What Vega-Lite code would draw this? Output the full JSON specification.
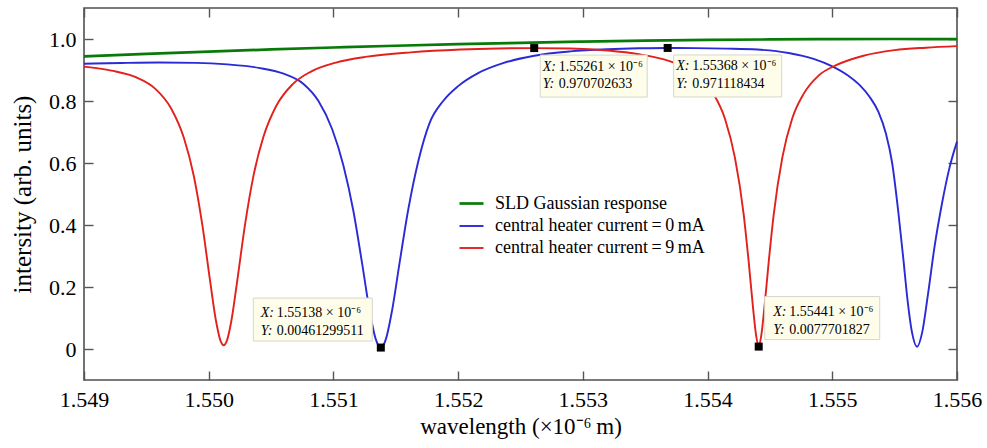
{
"$schema":"https://vega.github.io/schema/vega-lite/v6.json",
"width":873,"height":372,
"autosize":{"type":"none"},
"padding":{"left":84,"top":8,"right":30,"bottom":68},
"background":"white",
"config":{"font":"Liberation Serif","view":{"stroke":"#505050","strokeWidth":1.6}},
"datasets":{
"curves":[
{"s":"SLD Gaussian response","x":1.549,"y":0.9437},{"s":"SLD Gaussian response","x":1.5495,"y":0.9518},{"s":"SLD Gaussian response","x":1.55,"y":0.9594},{"s":"SLD Gaussian response","x":1.5505,"y":0.9663},{"s":"SLD Gaussian response","x":1.551,"y":0.9726},{"s":"SLD Gaussian response","x":1.5515,"y":0.9783},{"s":"SLD Gaussian response","x":1.552,"y":0.9833},{"s":"SLD Gaussian response","x":1.5525,"y":0.9877},{"s":"SLD Gaussian response","x":1.553,"y":0.9915},{"s":"SLD Gaussian response","x":1.5535,"y":0.9945},{"s":"SLD Gaussian response","x":1.554,"y":0.9969},{"s":"SLD Gaussian response","x":1.5545,"y":0.9986},{"s":"SLD Gaussian response","x":1.555,"y":0.9997},{"s":"SLD Gaussian response","x":1.5555,"y":1.0},{"s":"SLD Gaussian response","x":1.556,"y":0.9997},
{"s":"central heater current\u2009=\u20090\u2009mA","x":1.549,"y":0.920},{"s":"central heater current\u2009=\u20090\u2009mA","x":1.5493,"y":0.9225},{"s":"central heater current\u2009=\u20090\u2009mA","x":1.5496,"y":0.924},{"s":"central heater current\u2009=\u20090\u2009mA","x":1.5499,"y":0.923},{"s":"central heater current\u2009=\u20090\u2009mA","x":1.55015,"y":0.918},{"s":"central heater current\u2009=\u20090\u2009mA","x":1.5504,"y":0.907},{"s":"central heater current\u2009=\u20090\u2009mA","x":1.5506,"y":0.888},{"s":"central heater current\u2009=\u20090\u2009mA","x":1.55076,"y":0.855},{"s":"central heater current\u2009=\u20090\u2009mA","x":1.55088,"y":0.800},{"s":"central heater current\u2009=\u20090\u2009mA","x":1.55099,"y":0.709},{"s":"central heater current\u2009=\u20090\u2009mA","x":1.55108,"y":0.592},{"s":"central heater current\u2009=\u20090\u2009mA","x":1.55116,"y":0.445},{"s":"central heater current\u2009=\u20090\u2009mA","x":1.55123,"y":0.276},{"s":"central heater current\u2009=\u20090\u2009mA","x":1.55129,"y":0.124},{"s":"central heater current\u2009=\u20090\u2009mA","x":1.55134,"y":0.031},{"s":"central heater current\u2009=\u20090\u2009mA","x":1.55138,"y":0.0046},{"s":"central heater current\u2009=\u20090\u2009mA","x":1.55142,"y":0.031},{"s":"central heater current\u2009=\u20090\u2009mA","x":1.55147,"y":0.124},{"s":"central heater current\u2009=\u20090\u2009mA","x":1.55153,"y":0.277},{"s":"central heater current\u2009=\u20090\u2009mA","x":1.5516,"y":0.450},{"s":"central heater current\u2009=\u20090\u2009mA","x":1.55168,"y":0.605},{"s":"central heater current\u2009=\u20090\u2009mA","x":1.55177,"y":0.728},{"s":"central heater current\u2009=\u20090\u2009mA","x":1.55188,"y":0.800},{"s":"central heater current\u2009=\u20090\u2009mA","x":1.552,"y":0.848},{"s":"central heater current\u2009=\u20090\u2009mA","x":1.55216,"y":0.890},{"s":"central heater current\u2009=\u20090\u2009mA","x":1.55236,"y":0.922},{"s":"central heater current\u2009=\u20090\u2009mA","x":1.55261,"y":0.946},{"s":"central heater current\u2009=\u20090\u2009mA","x":1.5529,"y":0.960},{"s":"central heater current\u2009=\u20090\u2009mA","x":1.5532,"y":0.967},{"s":"central heater current\u2009=\u20090\u2009mA","x":1.55345,"y":0.970},{"s":"central heater current\u2009=\u20090\u2009mA","x":1.55368,"y":0.9711},{"s":"central heater current\u2009=\u20090\u2009mA","x":1.5539,"y":0.9705},{"s":"central heater current\u2009=\u20090\u2009mA","x":1.55415,"y":0.969},{"s":"central heater current\u2009=\u20090\u2009mA","x":1.5544,"y":0.966},{"s":"central heater current\u2009=\u20090\u2009mA","x":1.55465,"y":0.955},{"s":"central heater current\u2009=\u20090\u2009mA","x":1.55485,"y":0.936},{"s":"central heater current\u2009=\u20090\u2009mA","x":1.555,"y":0.912},{"s":"central heater current\u2009=\u20090\u2009mA","x":1.55512,"y":0.884},{"s":"central heater current\u2009=\u20090\u2009mA","x":1.55522,"y":0.851},{"s":"central heater current\u2009=\u20090\u2009mA","x":1.5553,"y":0.813},{"s":"central heater current\u2009=\u20090\u2009mA","x":1.55537,"y":0.765},{"s":"central heater current\u2009=\u20090\u2009mA","x":1.55543,"y":0.695},{"s":"central heater current\u2009=\u20090\u2009mA","x":1.55548,"y":0.600},{"s":"central heater current\u2009=\u20090\u2009mA","x":1.55553,"y":0.440},{"s":"central heater current\u2009=\u20090\u2009mA","x":1.55557,"y":0.290},{"s":"central heater current\u2009=\u20090\u2009mA","x":1.5556,"y":0.170},{"s":"central heater current\u2009=\u20090\u2009mA","x":1.55564,"y":0.052},{"s":"central heater current\u2009=\u20090\u2009mA","x":1.55568,"y":0.0075},{"s":"central heater current\u2009=\u20090\u2009mA","x":1.55572,"y":0.052},{"s":"central heater current\u2009=\u20090\u2009mA","x":1.555765,"y":0.170},{"s":"central heater current\u2009=\u20090\u2009mA","x":1.55582,"y":0.330},{"s":"central heater current\u2009=\u20090\u2009mA","x":1.55588,"y":0.470},{"s":"central heater current\u2009=\u20090\u2009mA","x":1.55594,"y":0.585},{"s":"central heater current\u2009=\u20090\u2009mA","x":1.556,"y":0.669},
{"s":"central heater current\u2009=\u20099\u2009mA","x":1.549,"y":0.911},{"s":"central heater current\u2009=\u20099\u2009mA","x":1.54922,"y":0.898},{"s":"central heater current\u2009=\u20099\u2009mA","x":1.54942,"y":0.876},{"s":"central heater current\u2009=\u20099\u2009mA","x":1.54957,"y":0.840},{"s":"central heater current\u2009=\u20099\u2009mA","x":1.5497,"y":0.775},{"s":"central heater current\u2009=\u20099\u2009mA","x":1.5498,"y":0.682},{"s":"central heater current\u2009=\u20099\u2009mA","x":1.54988,"y":0.559},{"s":"central heater current\u2009=\u20099\u2009mA","x":1.54995,"y":0.397},{"s":"central heater current\u2009=\u20099\u2009mA","x":1.55001,"y":0.223},{"s":"central heater current\u2009=\u20099\u2009mA","x":1.55006,"y":0.087},{"s":"central heater current\u2009=\u20099\u2009mA","x":1.550095,"y":0.026},{"s":"central heater current\u2009=\u20099\u2009mA","x":1.55012,"y":0.012},{"s":"central heater current\u2009=\u20099\u2009mA","x":1.550145,"y":0.026},{"s":"central heater current\u2009=\u20099\u2009mA","x":1.55018,"y":0.087},{"s":"central heater current\u2009=\u20099\u2009mA","x":1.55023,"y":0.224},{"s":"central heater current\u2009=\u20099\u2009mA","x":1.55029,"y":0.398},{"s":"central heater current\u2009=\u20099\u2009mA","x":1.55036,"y":0.561},{"s":"central heater current\u2009=\u20099\u2009mA","x":1.55044,"y":0.686},{"s":"central heater current\u2009=\u20099\u2009mA","x":1.55054,"y":0.783},{"s":"central heater current\u2009=\u20099\u2009mA","x":1.55067,"y":0.853},{"s":"central heater current\u2009=\u20099\u2009mA","x":1.55082,"y":0.895},{"s":"central heater current\u2009=\u20099\u2009mA","x":1.55102,"y":0.924},{"s":"central heater current\u2009=\u20099\u2009mA","x":1.55127,"y":0.943},{"s":"central heater current\u2009=\u20099\u2009mA","x":1.55162,"y":0.957},{"s":"central heater current\u2009=\u20099\u2009mA","x":1.55202,"y":0.966},{"s":"central heater current\u2009=\u20099\u2009mA","x":1.55232,"y":0.9695},{"s":"central heater current\u2009=\u20099\u2009mA","x":1.55261,"y":0.9707},{"s":"central heater current\u2009=\u20099\u2009mA","x":1.5529,"y":0.9695},{"s":"central heater current\u2009=\u20099\u2009mA","x":1.5532,"y":0.963},{"s":"central heater current\u2009=\u20099\u2009mA","x":1.55345,"y":0.951},{"s":"central heater current\u2009=\u20099\u2009mA","x":1.55365,"y":0.934},{"s":"central heater current\u2009=\u20099\u2009mA","x":1.5538,"y":0.911},{"s":"central heater current\u2009=\u20099\u2009mA","x":1.55393,"y":0.879},{"s":"central heater current\u2009=\u20099\u2009mA","x":1.55405,"y":0.821},{"s":"central heater current\u2009=\u20099\u2009mA","x":1.55414,"y":0.742},{"s":"central heater current\u2009=\u20099\u2009mA","x":1.55422,"y":0.6155},{"s":"central heater current\u2009=\u20099\u2009mA","x":1.55429,"y":0.433},{"s":"central heater current\u2009=\u20099\u2009mA","x":1.55433,"y":0.280},{"s":"central heater current\u2009=\u20099\u2009mA","x":1.554365,"y":0.131},{"s":"central heater current\u2009=\u20099\u2009mA","x":1.55439,"y":0.042},{"s":"central heater current\u2009=\u20099\u2009mA","x":1.55441,"y":0.0078},{"s":"central heater current\u2009=\u20099\u2009mA","x":1.55443,"y":0.042},{"s":"central heater current\u2009=\u20099\u2009mA","x":1.554455,"y":0.131},{"s":"central heater current\u2009=\u20099\u2009mA","x":1.55449,"y":0.280},{"s":"central heater current\u2009=\u20099\u2009mA","x":1.55453,"y":0.433},{"s":"central heater current\u2009=\u20099\u2009mA","x":1.5546,"y":0.619},{"s":"central heater current\u2009=\u20099\u2009mA","x":1.55468,"y":0.745},{"s":"central heater current\u2009=\u20099\u2009mA","x":1.55477,"y":0.823},{"s":"central heater current\u2009=\u20099\u2009mA","x":1.55489,"y":0.882},{"s":"central heater current\u2009=\u20099\u2009mA","x":1.55504,"y":0.917},{"s":"central heater current\u2009=\u20099\u2009mA","x":1.55525,"y":0.946},{"s":"central heater current\u2009=\u20099\u2009mA","x":1.5555,"y":0.964},{"s":"central heater current\u2009=\u20099\u2009mA","x":1.55575,"y":0.972},{"s":"central heater current\u2009=\u20099\u2009mA","x":1.556,"y":0.977}
],
"tips":[
{"id":1,"x":1.55138,"y":0.00461299511,"xl":"1.55138 × 10⁻⁶","yl":"0.00461299511"},
{"id":2,"x":1.55261,"y":0.970702633,"xl":"1.55261 × 10⁻⁶","yl":"0.970702633"},
{"id":3,"x":1.55368,"y":0.971118434,"xl":"1.55368 × 10⁻⁶","yl":"0.971118434"},
{"id":4,"x":1.55441,"y":0.0077701827,"xl":"1.55441 × 10⁻⁶","yl":"0.0077701827"}
]
},
"resolve":{"axis":{"x":"independent","y":"independent"}},
"layer":[
{"data":{"name":"curves"},
 "mark":{"type":"line","interpolate":"monotone"},
 "encoding":{
  "x":{"field":"x","type":"quantitative","scale":{"domain":[1.549,1.556],"nice":false,"zero":false},
   "axis":{"orient":"bottom","values":[1.549,1.55,1.551,1.552,1.553,1.554,1.555,1.556],"format":".3f","title":"wavelength (×10⁻⁶\u2009m)","domain":false,"grid":false,"tickSize":-9,"tickColor":"#555555","tickWidth":1.4,"labelPadding":18,"labelFontSize":22,"labelColor":"black","labelFont":"Liberation Serif","labelFlush":false,"labelOverlap":false,"titleFontSize":23,"titleFont":"Liberation Serif","titleFontWeight":"normal","titleColor":"black","titlePadding":5}},
  "y":{"field":"y","type":"quantitative","scale":{"domain":[-0.1,1.1],"nice":false,"zero":false},
   "axis":{"orient":"left","values":[0,0.2,0.4,0.6,0.8,1.0],"labelExpr":"datum.value == 0 ? '0' : format(datum.value, '.1f')","title":"intersity (arb. units)","domain":false,"grid":false,"tickSize":-9,"tickColor":"#555555","tickWidth":1.4,"labelPadding":17,"labelFontSize":22,"labelColor":"black","labelFont":"Liberation Serif","labelOverlap":false,"titleFontSize":25,"titleFont":"Liberation Serif","titleFontWeight":"normal","titleColor":"black","titlePadding":13}},
  "color":{"field":"s","type":"nominal","scale":{"domain":["SLD Gaussian response","central heater current\u2009=\u20090\u2009mA","central heater current\u2009=\u20099\u2009mA"],"range":["#087a08","#2a2ad6","#e2201c"]},
   "legend":{"title":null,"orient":"none","legendX":374,"legendY":182,"padding":0,"symbolType":"stroke","symbolSize":576,"symbolStrokeWidth":2.2,"labelFontSize":18,"labelFont":"Liberation Serif","labelColor":"black","labelOffset":10,"labelLimit":400,"rowPadding":-4}},
  "strokeWidth":{"field":"s","type":"nominal","scale":{"type":"ordinal","domain":["SLD Gaussian response","central heater current\u2009=\u20090\u2009mA","central heater current\u2009=\u20099\u2009mA"],"range":[2.7,1.9,1.9]},"legend":null}
 }},
{"data":{"name":"tips"},"transform":[{"filter":"datum.id == 1"}],
 "mark":{"type":"rect","width":119,"height":43,"xOffset":-68,"yOffset":-28,"fill":"#fdfdea","stroke":"#d6d6cc","strokeWidth":1},
 "encoding":{"x":{"field":"x","type":"quantitative","axis":null},"y":{"field":"y","type":"quantitative","axis":null}}},
{"data":{"name":"tips"},"transform":[{"filter":"datum.id == 2"}],
 "mark":{"type":"rect","width":107,"height":42,"xOffset":59.5,"yOffset":28,"fill":"#fdfdea","stroke":"#d6d6cc","strokeWidth":1},
 "encoding":{"x":{"field":"x","type":"quantitative","axis":null},"y":{"field":"y","type":"quantitative","axis":null}}},
{"data":{"name":"tips"},"transform":[{"filter":"datum.id == 3"}],
 "mark":{"type":"rect","width":108,"height":42,"xOffset":60,"yOffset":28,"fill":"#fdfdea","stroke":"#d6d6cc","strokeWidth":1},
 "encoding":{"x":{"field":"x","type":"quantitative","axis":null},"y":{"field":"y","type":"quantitative","axis":null}}},
{"data":{"name":"tips"},"transform":[{"filter":"datum.id == 4"}],
 "mark":{"type":"rect","width":115,"height":43,"xOffset":63.5,"yOffset":-28.5,"fill":"#fdfdea","stroke":"#d6d6cc","strokeWidth":1},
 "encoding":{"x":{"field":"x","type":"quantitative","axis":null},"y":{"field":"y","type":"quantitative","axis":null}}},
{"data":{"name":"tips"},"transform":[{"filter":"datum.id == 1"}],
 "mark":{"type":"text","text":["X:","Y:"],"lineHeight":17.5,"fontStyle":"italic","fontSize":14,"align":"left","baseline":"alphabetic","dx":-120,"dy":-30.5,"color":"black"},
 "encoding":{"x":{"field":"x","type":"quantitative","axis":null},"y":{"field":"y","type":"quantitative","axis":null}}},
{"data":{"name":"tips"},"transform":[{"filter":"datum.id == 1"}],
 "mark":{"type":"text","fontSize":14,"align":"left","baseline":"alphabetic","dx":-104,"dy":-30.5,"color":"black"},
 "encoding":{"x":{"field":"x","type":"quantitative","axis":null},"y":{"field":"y","type":"quantitative","axis":null},"text":{"field":"xl"}}},
{"data":{"name":"tips"},"transform":[{"filter":"datum.id == 1"}],
 "mark":{"type":"text","fontSize":14,"align":"left","baseline":"alphabetic","dx":-104,"dy":-13,"color":"black"},
 "encoding":{"x":{"field":"x","type":"quantitative","axis":null},"y":{"field":"y","type":"quantitative","axis":null},"text":{"field":"yl"}}},
{"data":{"name":"tips"},"transform":[{"filter":"datum.id == 2 || datum.id == 3"}],
 "mark":{"type":"text","text":["X:","Y:"],"lineHeight":17.5,"fontStyle":"italic","fontSize":14,"align":"left","baseline":"alphabetic","dx":8.5,"dy":22.5,"color":"black"},
 "encoding":{"x":{"field":"x","type":"quantitative","axis":null},"y":{"field":"y","type":"quantitative","axis":null}}},
{"data":{"name":"tips"},"transform":[{"filter":"datum.id == 2 || datum.id == 3"}],
 "mark":{"type":"text","fontSize":14,"align":"left","baseline":"alphabetic","dx":24.5,"dy":22.5,"color":"black"},
 "encoding":{"x":{"field":"x","type":"quantitative","axis":null},"y":{"field":"y","type":"quantitative","axis":null},"text":{"field":"xl"}}},
{"data":{"name":"tips"},"transform":[{"filter":"datum.id == 2 || datum.id == 3"}],
 "mark":{"type":"text","fontSize":14,"align":"left","baseline":"alphabetic","dx":24.5,"dy":40,"color":"black"},
 "encoding":{"x":{"field":"x","type":"quantitative","axis":null},"y":{"field":"y","type":"quantitative","axis":null},"text":{"field":"yl"}}},
{"data":{"name":"tips"},"transform":[{"filter":"datum.id == 4"}],
 "mark":{"type":"text","text":["X:","Y:"],"lineHeight":17.5,"fontStyle":"italic","fontSize":14,"align":"left","baseline":"alphabetic","dx":14.5,"dy":-30.5,"color":"black"},
 "encoding":{"x":{"field":"x","type":"quantitative","axis":null},"y":{"field":"y","type":"quantitative","axis":null}}},
{"data":{"name":"tips"},"transform":[{"filter":"datum.id == 4"}],
 "mark":{"type":"text","fontSize":14,"align":"left","baseline":"alphabetic","dx":30.5,"dy":-30.5,"color":"black"},
 "encoding":{"x":{"field":"x","type":"quantitative","axis":null},"y":{"field":"y","type":"quantitative","axis":null},"text":{"field":"xl"}}},
{"data":{"name":"tips"},"transform":[{"filter":"datum.id == 4"}],
 "mark":{"type":"text","fontSize":14,"align":"left","baseline":"alphabetic","dx":30.5,"dy":-13,"color":"black"},
 "encoding":{"x":{"field":"x","type":"quantitative","axis":null},"y":{"field":"y","type":"quantitative","axis":null},"text":{"field":"yl"}}},
{"data":{"name":"tips"},
 "mark":{"type":"point","shape":"square","filled":true,"size":64,"color":"black","opacity":1},
 "encoding":{
  "x":{"field":"x","type":"quantitative","axis":{"orient":"top","values":[1.549,1.55,1.551,1.552,1.553,1.554,1.555,1.556],"labels":false,"title":null,"domain":false,"grid":false,"tickSize":-9,"tickColor":"#555555","tickWidth":1.4}},
  "y":{"field":"y","type":"quantitative","axis":{"orient":"right","values":[0,0.2,0.4,0.6,0.8,1.0],"labels":false,"title":null,"domain":false,"grid":false,"tickSize":-9,"tickColor":"#555555","tickWidth":1.4}}
 }}
]
}
